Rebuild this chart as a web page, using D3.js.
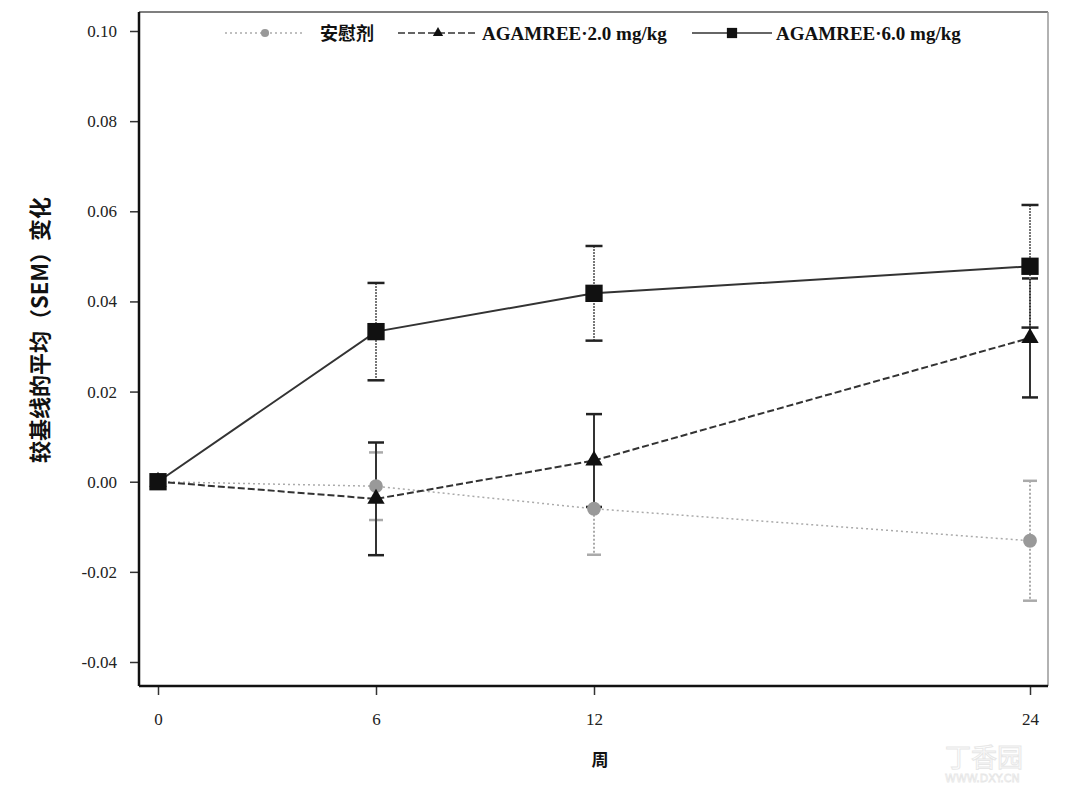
<!DOCTYPE html>
<html>
<head>
<meta charset="utf-8">
<script src="https://cdn.jsdelivr.net/npm/d3@7"></script>
<style>
  body { margin: 0; background: #fff; }
  svg { display: block; }
  .axis text { font-family: "Liberation Serif", "DejaVu Serif", serif; font-size: 17px; fill: #222; }
</style>
</head>
<body>
<svg id="chart" width="1075" height="788"></svg>
<script>
// Data (mean change from baseline, SEM)
const weeks = [0, 6, 12, 24];
const placeboMean = [0, -0.001, -0.006, -0.0131];
const placeboSem = [0, 0.0075, 0.0102, 0.0133];
const dose2Mean = [0, -0.0038, 0.0047, 0.0319];
const dose2Sem = [0, 0.0125, 0.0103, 0.0132];
const dose6Mean = [0, 0.0333, 0.0418, 0.0478];
const dose6Sem = [0, 0.0108, 0.0105, 0.0136];
const yTicks = [-0.04, -0.02, 0.00, 0.02, 0.04, 0.06, 0.08, 0.10];
const xTicks = [0, 6, 12, 24];
const seriesNames = ['安慰剂', 'AGAMREE·2.0 mg/kg', 'AGAMREE·6.0 mg/kg'];

const svg = d3.select('#chart');

// frame of the plot area
const frame = { left: 139, right: 1048, top: 12, bottom: 686 };

const x = d3.scaleLinear().domain([0, 24]).range([158, 1030]);
const y = d3.scaleLinear().domain([-0.04, 0.10]).range([662, 31]);

// faint watermark (scan)
const wm = svg.append('g').style('opacity', 0.35);
wm.append('text')
    .attr('x', 945).attr('y', 767)
    .style('font-family', '"Noto Sans CJK SC", sans-serif')
    .style('font-size', '26px')
    .style('fill', 'none').style('stroke', '#bbb').style('stroke-width', 1)
    .text('丁香园');
wm.append('text')
    .attr('x', 945).attr('y', 782)
    .style('font-family', '"DejaVu Sans", sans-serif')
    .style('font-size', '11px')
    .style('fill', 'none').style('stroke', '#bbb').style('stroke-width', 0.8)
    .text('WWW.DXY.CN');

// top / right border (thin)
svg.append('line')
    .attr('x1', frame.left).attr('x2', frame.right)
    .attr('y1', frame.top).attr('y2', frame.top)
    .style('stroke', '#555').style('stroke-width', 1.5);
svg.append('line')
    .attr('x1', frame.right).attr('x2', frame.right)
    .attr('y1', frame.top).attr('y2', frame.bottom)
    .style('stroke', '#999').style('stroke-width', 1.5);

// Y axis
const yAxis = svg.append('g')
    .attr('class', 'axis')
    .attr('transform', `translate(${frame.left},0)`)
    .call(d3.axisLeft(y).tickValues(yTicks).tickSize(9).tickPadding(13)
        .tickFormat(d => d.toFixed(2)));
yAxis.select('.domain').remove();
yAxis.selectAll('.tick line').style('stroke', '#333').style('stroke-width', 1.5);
svg.append('line')
    .attr('x1', frame.left).attr('x2', frame.left)
    .attr('y1', frame.top).attr('y2', frame.bottom)
    .style('stroke', '#111').style('stroke-width', 2.5);

// X axis
const xAxis = svg.append('g')
    .attr('class', 'axis')
    .attr('transform', `translate(0,${frame.bottom})`)
    .call(d3.axisBottom(x).tickValues(xTicks).tickSize(9).tickPadding(18)
        .tickFormat(d3.format('d')));
xAxis.select('.domain').remove();
xAxis.selectAll('.tick line').style('stroke', '#333').style('stroke-width', 1.5);
svg.append('line')
    .attr('x1', frame.left).attr('x2', frame.right)
    .attr('y1', frame.bottom).attr('y2', frame.bottom)
    .style('stroke', '#111').style('stroke-width', 2.5);

// Axis titles
svg.append('text')
    .attr('transform', 'translate(48,330) rotate(-90)')
    .attr('text-anchor', 'middle')
    .style('font-family', '"Noto Sans CJK SC", sans-serif')
    .style('font-size', '22px')
    .style('font-weight', 'bold')
    .style('fill', '#111')
    .text('较基线的平均（SEM）变化');
svg.append('text')
    .attr('x', 600).attr('y', 766)
    .attr('text-anchor', 'middle')
    .style('font-family', '"Noto Sans CJK SC", sans-serif')
    .style('font-size', '17px')
    .style('font-weight', 'bold')
    .style('fill', '#111')
    .text('周');

const series = [
    { name: seriesNames[0], mean: placeboMean, sem: placeboSem, shape: d3.symbolCircle, size: 150,
      fill: '#999', line: '#aaa', dash: '2,3', lineW: 1.5, err: '#aaa', errDash: '2,2', cap: 14, capColor: '#aaa' },
    { name: seriesNames[1], mean: dose2Mean, sem: dose2Sem, shape: d3.symbolTriangle, size: 130,
      fill: '#111', line: '#333', dash: '7,3', lineW: 2, err: '#333', errDash: null, cap: 16, capColor: '#222' },
    { name: seriesNames[2], mean: dose6Mean, sem: dose6Sem, shape: d3.symbolSquare, size: 300,
      fill: '#111', line: '#333', dash: null, lineW: 2, err: '#777', errDash: '2,1', cap: 17, capColor: '#222' }
];

const lineGen = d3.line().x((d, i) => x(weeks[i])).y(d => y(d));

const errLayer = svg.append('g');
const lineLayer = svg.append('g');
const markLayer = svg.append('g');

series.forEach(s => {
    // error bars (skip baseline)
    weeks.forEach((w, i) => {
        if (s.sem[i] === 0) return;
        const hi = y(s.mean[i] + s.sem[i]);
        const lo = y(s.mean[i] - s.sem[i]);
        errLayer.append('line')
            .attr('x1', x(w)).attr('x2', x(w)).attr('y1', hi).attr('y2', lo)
            .style('stroke', s.err).style('stroke-width', 2)
            .style('stroke-dasharray', s.errDash);
        [hi, lo].forEach(cy => {
            errLayer.append('line')
                .attr('x1', x(w) - s.cap / 2).attr('x2', x(w) + s.cap / 2)
                .attr('y1', cy).attr('y2', cy)
                .style('stroke', s.capColor)
                .style('stroke-width', 2.5);
        });
    });
    // connecting line
    lineLayer.append('path')
        .datum(s.mean)
        .attr('d', lineGen)
        .style('fill', 'none')
        .style('stroke', s.line)
        .style('stroke-width', s.lineW)
        .style('stroke-dasharray', s.dash);
    // markers
    markLayer.append('g').selectAll('path')
        .data(s.mean)
        .enter()
        .append('path')
        .attr('transform', (d, i) => `translate(${x(weeks[i])},${y(d)})`)
        .attr('d', d3.symbol().type(s.shape).size(s.size))
        .style('fill', s.fill);
});

// Legend
const legendX = [225, 398, 692];
const legend = svg.append('g');
series.forEach((s, i) => {
    const lx = legendX[i];
    legend.append('line')
        .attr('x1', lx).attr('x2', lx + 80)
        .attr('y1', 33).attr('y2', 33)
        .style('stroke', s.line).style('stroke-width', 1.5)
        .style('stroke-dasharray', s.dash);
    legend.append('path')
        .attr('transform', `translate(${lx + 40},33)`)
        .attr('d', d3.symbol().type(s.shape).size(s.size * 0.35))
        .style('fill', s.fill);
    legend.append('text')
        .attr('x', lx + (i === 0 ? 95 : 84)).attr('y', 40)
        .style('font-family', i === 0 ? '"Noto Sans CJK SC", sans-serif' : '"Liberation Serif", serif')
        .style('font-size', i === 0 ? '18px' : '19px')
        .style('font-weight', 'bold')
        .style('fill', '#111')
        .text(s.name);
});
</script>
</body>
</html>
